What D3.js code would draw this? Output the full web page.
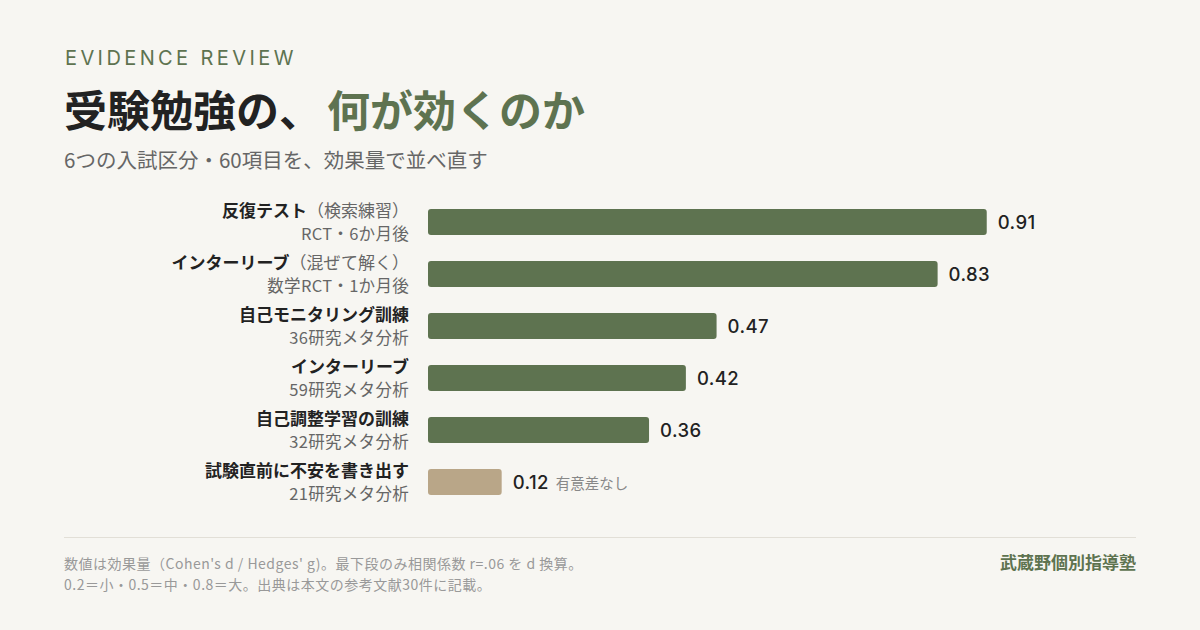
<!DOCTYPE html>
<html>
<head>
<meta charset="utf-8">
<script src="https://cdn.jsdelivr.net/npm/d3@7"></script>
<style>
  html, body { margin: 0; padding: 0; background: #f7f6f2; }
  svg { display: block; font-family: "Noto Sans CJK JP", "Noto Sans", sans-serif; }
</style>
</head>
<body>
<svg id="chart" width="1200" height="630"></svg>
<script>
// Data
const labels = ['反復テスト', 'インターリーブ', '自己モニタリング訓練', 'インターリーブ', '自己調整学習の訓練', '試験直前に不安を書き出す'];
const notes = ['（検索練習）', '（混ぜて解く）', '', '', '', ''];
const sublabels = ['RCT・6か月後', '数学RCT・1か月後', '36研究メタ分析', '59研究メタ分析', '32研究メタ分析', '21研究メタ分析'];
const values = [0.91, 0.83, 0.47, 0.42, 0.36, 0.12];
const significant = [true, true, true, true, true, false];

const green = '#5e7350';
const tan = '#b9a688';

const svg = d3.select('#chart');
const width = +svg.attr('width');

svg.append('rect').attr('width', width).attr('height', 630).attr('fill', '#f7f6f2');

// Header
svg.append('text')
    .attr('x', 65).attr('y', 65)
    .attr('fill', green)
    .attr('font-size', 20)
    .attr('letter-spacing', 3.4)
    .attr('font-family', 'Inter, "Noto Sans", sans-serif')
    .attr('font-weight', 400)
    .text('EVIDENCE REVIEW');

const title = svg.append('text')
    .attr('x', 64).attr('y', 127)
    .attr('font-size', 43)
    .attr('font-weight', 700);
title.append('tspan').attr('fill', '#222').text('受験勉強の、');
title.append('tspan').attr('dx', 5).attr('fill', green).text('何が効くのか');

svg.append('text')
    .attr('x', 64).attr('y', 168)
    .attr('fill', '#666')
    .attr('font-size', 20.5)
    .text('6つの入試区分・60項目を、効果量で並べ直す');

// Scales
const x = d3.scaleLinear().domain([0, 1]).range([428, 1042]);
const y = d3.scaleBand().domain(d3.range(values.length)).range([196, 508]).paddingInner(0.5).paddingOuter(0.25);

const rows = svg.append('g').selectAll('g')
    .data(values)
    .join('g')
    .attr('transform', (d, i) => `translate(0,${y(i)})`);

rows.append('rect')
    .attr('x', x(0))
    .attr('width', d => x(d) - x(0))
    .attr('height', y.bandwidth())
    .attr('rx', 3)
    .attr('fill', (d, i) => significant[i] ? green : tan);

const mid = y.bandwidth() / 2;

// Labels
const lbl = rows.append('text')
    .attr('x', 409).attr('y', mid - 5)
    .attr('text-anchor', 'end')
    .attr('font-size', 17);
lbl.append('tspan')
    .attr('font-weight', 700)
    .attr('fill', '#222')
    .text((d, i) => labels[i]);
lbl.append('tspan')
    .attr('fill', '#666')
    .text((d, i) => notes[i]);

rows.append('text')
    .attr('x', 409).attr('y', mid + 18)
    .attr('text-anchor', 'end')
    .attr('font-size', 16.5)
    .attr('letter-spacing', 0.3)
    .attr('fill', '#666')
    .text((d, i) => sublabels[i]);

// Values
const val = rows.append('text')
    .attr('x', d => x(d) + 11)
    .attr('y', mid + 7)
    .attr('font-size', 18.5)
    .attr('letter-spacing', 0.4)
    .attr('font-family', 'Inter, "Noto Sans", sans-serif')
    .attr('font-weight', 500)
    .attr('fill', '#222');
val.append('tspan').text(d => d.toFixed(2));
val.append('tspan')
    .attr('dx', 7)
    .attr('font-size', 14.5)
    .attr('letter-spacing', 0)
    .attr('font-weight', 400)
    .attr('font-family', '"Noto Sans CJK JP", sans-serif')
    .attr('fill', '#888')
    .text((d, i) => significant[i] ? '' : '有意差なし');

// Footer
svg.append('line')
    .attr('x1', 64).attr('x2', 1136)
    .attr('y1', 537.5).attr('y2', 537.5)
    .attr('stroke', '#e2dfd7');

const footLines = [
    '数値は効果量（Cohen\'s d / Hedges\' g)。最下段のみ相関係数 r=.06 を d 換算。',
    '0.2＝小・0.5＝中・0.8＝大。出典は本文の参考文献30件に記載。'
];
svg.append('g').selectAll('text')
    .data(footLines)
    .join('text')
    .attr('x', 64)
    .attr('y', (d, i) => 569 + i * 21)
    .attr('font-size', 14)
    .attr('letter-spacing', 0.5)
    .attr('fill', '#999')
    .text(d => d);

svg.append('text')
    .attr('x', 1136).attr('y', 569)
    .attr('text-anchor', 'end')
    .attr('font-size', 17)
    .attr('font-weight', 700)
    .attr('fill', green)
    .text('武蔵野個別指導塾');
</script>
</body>
</html>
